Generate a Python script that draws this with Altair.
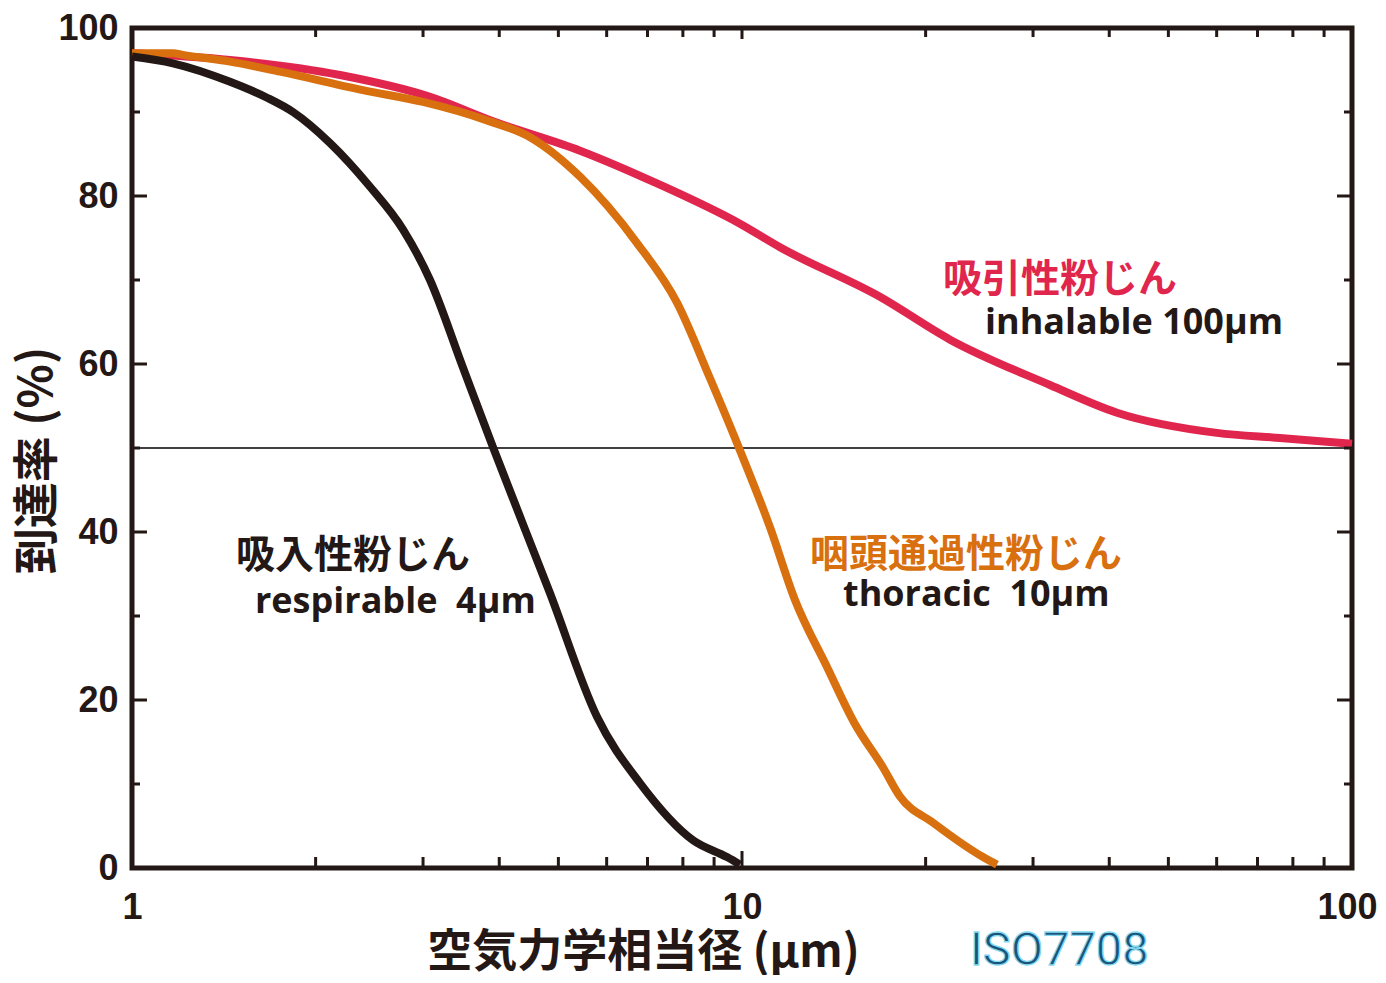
import altair as alt
import pandas as pd

# ---- data ----
resp_x = [1.0, 1.167, 1.448, 1.665, 1.836, 2.112, 2.456, 2.782, 3.08, 3.487, 3.906, 4.845, 5.785, 6.804, 8.313, 9.45, 9.924]
resp_y = [96.6, 95.8, 93.6, 91.7, 90.0, 86.3, 81.1, 76.0, 70.0, 59.6, 50.1, 32.7, 18.0, 10.1, 3.3, 1.3, 0.4]

thor_x = [1.0, 1.167, 1.212, 1.448, 1.748, 2.391, 3.0, 3.819, 4.493, 5.426, 6.728, 7.824, 8.862, 9.813, 11.11, 12.2, 13.79, 15.3, 17.02, 18.16, 20.56, 24.84, 26.18]
thor_y = [97.0, 97.0, 96.8, 96.0, 94.8, 92.6, 91.2, 89.0, 87.0, 82.3, 74.4, 67.3, 58.3, 50.6, 40.6, 32.0, 23.9, 17.2, 12.0, 8.5, 5.4, 1.3, 0.4]

inh_x = [1.0, 1.448, 2.193, 3.08, 3.937, 5.426, 7.255, 9.924, 11.54, 16.83, 21.93, 31.98, 41.19, 60.06, 76.2, 100.0]
inh_y = [97.0, 96.2, 94.4, 91.8, 88.8, 85.4, 81.5, 76.7, 73.9, 68.0, 62.9, 57.5, 54.2, 51.8, 51.2, 50.5]

ref_level = [50]

x_label_values = [1, 10, 100]
y_label_values = [0, 20, 40, 60, 80, 100]
y_minor = [10, 30, 50, 70, 90]
x_major_inner = [10]
x_minor = [2, 3, 4, 5, 6, 7, 8, 9, 20, 30, 40, 50, 60, 70, 80, 90]

x_title = "空気力学相当径 (μm)"
y_title = "到達率 (%)"
label_inh_jp = "吸引性粉じん"
label_inh_en = "inhalable 100μm"
label_resp_jp = "吸入性粉じん"
label_resp_en = "respirable\u00a0 4μm"
label_thor_jp = "咽頭通過性粉じん"
label_thor_en = "thoracic\u00a0 10μm"
label_iso = "ISO7708"

# ---- styling ----
W, H = 1220, 840
INK = "#231815"
RED = "#e1264e"
ORANGE = "#d9700f"
JP = "Noto Sans CJK JP"
EN = "Open Sans"

xs = alt.Scale(type="log", domain=[1, 100], nice=False)
ys = alt.Scale(domain=[0, 100], nice=False)

XAX = alt.Axis(
    values=x_label_values, format="d", ticks=False, tickSize=0, domain=False, grid=False,
    labelFont="Liberation Sans", labelFontSize=36, labelFontWeight="bold",
    labelColor=INK, labelPadding=22, labelFlush=False,
    labelAlign=alt.condition("datum.value === 100", alt.value("right"), alt.value("center")),
    labelOffset=alt.condition("datum.value === 100", alt.value(25), alt.value(0)),
    title=x_title, titleFont=JP, titleFontSize=45, titleFontWeight="bold", titleColor=INK,
    titleX=511, titleY=84, titleAlign="center", titleBaseline="middle",
)
YAX = alt.Axis(
    values=y_label_values, ticks=False, tickSize=0, domain=False, grid=False,
    labelFont="Liberation Sans", labelFontSize=36, labelFontWeight="bold",
    labelColor=INK, labelPadding=14,
    title=y_title, titleFont=JP, titleFontSize=46, titleFontWeight="bold", titleColor=INK,
    titleX=-95, titleY=432, titleAngle=-90, titleAlign="center", titleBaseline="middle",
)


def curve_df(xv, yv):
    return pd.DataFrame({"d": xv, "p": yv, "i": list(range(len(xv)))})


def curve(xv, yv, color, width):
    return alt.Chart(curve_df(xv, yv)).mark_line(
        color=color, strokeWidth=width, strokeJoin="round", strokeCap="butt",
        interpolate="monotone", clip=False
    ).encode(
        x=alt.X("d:Q", scale=xs, axis=XAX),
        y=alt.Y("p:Q", scale=ys, axis=YAX),
        order="i:O",
    )


def yticks(vals, length):
    df = pd.DataFrame({"d": vals})
    left = alt.Chart(df).mark_rule(color=INK, strokeWidth=3).encode(
        y=alt.Y("d:Q", scale=ys, axis=YAX), x=alt.value(0), x2=alt.value(length))
    right = alt.Chart(df).mark_rule(color=INK, strokeWidth=3).encode(
        y=alt.Y("d:Q", scale=ys, axis=YAX), x=alt.value(W - length), x2=alt.value(W))
    return [left, right]


def xticks(vals, blen, tlen):
    df = pd.DataFrame({"d": vals})
    bottom = alt.Chart(df).mark_rule(color=INK, strokeWidth=3).encode(
        x=alt.X("d:Q", scale=xs, axis=XAX), y=alt.value(H), y2=alt.value(H - blen))
    top = alt.Chart(df).mark_rule(color=INK, strokeWidth=3).encode(
        x=alt.X("d:Q", scale=xs, axis=XAX), y=alt.value(0), y2=alt.value(tlen))
    return [bottom, top]


def label(text, x, y, color, font, size, weight, **kw):
    return alt.Chart(pd.DataFrame({"t": [text]})).mark_text(
        align="left", baseline="middle", font=font, fontSize=size, fontWeight=weight,
        color=color, **kw
    ).encode(x=alt.value(x), y=alt.value(y), text="t:N")


ref = alt.Chart(pd.DataFrame({"p": ref_level})).mark_rule(color="#000000", strokeWidth=1.3).encode(
    y=alt.Y("p:Q", scale=ys, axis=YAX), x=alt.value(0), x2=alt.value(W))

layers = [
    ref,
    curve(inh_x, inh_y, RED, 8),
    curve(thor_x, thor_y, ORANGE, 8),
    curve(resp_x, resp_y, INK, 8),
]
layers += yticks(y_label_values, 15)
layers += yticks(y_minor, 8)
layers += xticks(x_major_inner, 17, 11)
layers += xticks(x_minor, 11, 9)
layers += [
    label(label_inh_jp, 811, 252, RED, JP, 39, "bold"),
    label(label_inh_en, 853, 295, INK, EN, 36, "bold"),
    label(label_resp_jp, 104, 528, INK, JP, 39, "bold"),
    label(label_resp_en, 123, 574, INK, EN, 36, "bold"),
    label(label_thor_jp, 678, 527, ORANGE, JP, 39, "bold"),
    label(label_thor_en, 711, 567, INK, EN, 36, "bold"),
    label(label_iso, 838, 923, "#1a5476", "Roboto", 47, "normal",
          stroke="#86d8f2", strokeWidth=1.3),
]

chart = alt.layer(*layers).properties(
    width=W, height=H,
    background="white",
    autosize=alt.AutoSizeParams(type="none"),
    padding={"left": 124, "top": 20, "right": 26, "bottom": 107},
).configure_view(stroke=INK, strokeWidth=5)

chart.save("out.html", embed_options={"renderer": "svg", "actions": False})
